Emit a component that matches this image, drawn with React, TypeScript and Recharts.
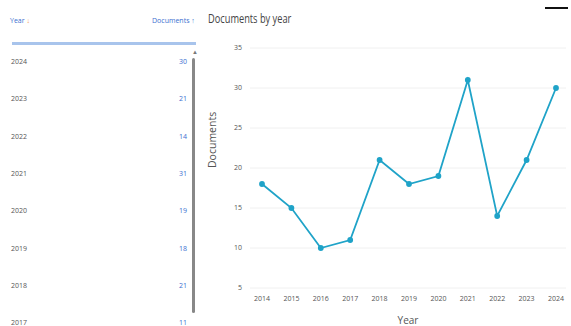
import { LineChart, Line, XAxis, YAxis, CartesianGrid } from 'recharts'

const years = ['2014', '2015', '2016', '2017', '2018', '2019', '2020', '2021', '2022', '2023', '2024']
const documents = [18, 15, 10, 11, 21, 18, 19, 31, 14, 21, 30]
const yTicks = [5, 10, 15, 20, 25, 30, 35]
const tableYears = ['2024', '2023', '2022', '2021', '2020', '2019', '2018', '2017']
const tableDocs = [30, 21, 14, 31, 19, 18, 21, 11]

const font = '"Open Sans", sans-serif'

function YearTable() {
  return (
    <div style={{ position: 'absolute', left: 0, top: 0, width: 200, height: 326, overflow: 'hidden', fontFamily: font }}>
      <div style={{ position: 'absolute', left: 10, top: 16, fontSize: 7, color: '#3b6fd0' }}>
        Year <span style={{ color: '#f0a050' }}>↓</span>
      </div>
      <div style={{ position: 'absolute', left: 152, top: 16, fontSize: 7, color: '#3b6fd0' }}>Documents ↑</div>
      <div style={{ position: 'absolute', left: 12, top: 42, width: 184, height: 3, background: '#a8c4ec' }} />
      <div style={{ position: 'absolute', left: 192, top: 48, fontSize: 6, color: '#777' }}>▲</div>
      <div style={{ position: 'absolute', left: 192, top: 58, width: 3, height: 255, background: '#888', borderRadius: 2 }} />
      {tableYears.map((y, i) => (
        <div key={y} style={{ position: 'absolute', left: 0, top: 57 + i * 37.3, width: 200, height: 10 }}>
          <span style={{ position: 'absolute', left: 11, fontSize: 7, color: '#555' }}>{y}</span>
          <span style={{ position: 'absolute', right: 13, fontSize: 7, color: '#3b6fd0' }}>{tableDocs[i]}</span>
        </div>
      ))}
    </div>
  )
}

export default function App() {
  const data = years.map((year, i) => ({ year, documents: documents[i] }))
  return (
    <div style={{ position: 'absolute', left: 0, top: 0, width: 571, height: 326, background: '#fff', fontFamily: font }}>
      <YearTable />
      <div
        style={{
          position: 'absolute',
          left: 208,
          top: 10,
          fontSize: 12.5,
          color: '#444',
          whiteSpace: 'nowrap',
          transform: 'scaleX(0.74)',
          transformOrigin: 'left top',
        }}
      >
        Documents by year
      </div>
      <div style={{ position: 'absolute', left: 545, top: 7, width: 23, height: 2, background: '#111' }} />
      <div style={{ position: 'absolute', left: 205, top: 0 }}>
        <LineChart width={366} height={326} data={data} margin={{ top: 48, right: 5, bottom: 0, left: 0 }}>
          <CartesianGrid vertical={false} stroke="#f0f0f0" />
          <XAxis
            dataKey="year"
            axisLine={false}
            tickLine={false}
            height={38}
            padding={{ left: 12, right: 10 }}
            tick={{ fontSize: 7, fill: '#555' }}
            label={{ value: 'Year', position: 'insideBottom', offset: 2, fontSize: 10, fill: '#555' }}
          />
          <YAxis
            domain={[5, 35]}
            ticks={yTicks}
            axisLine={false}
            tickLine={false}
            width={45}
            tick={{ fontSize: 7, fill: '#555' }}
            label={{ value: 'Documents', angle: -90, position: 'insideLeft', offset: 7, fontSize: 10.5, fill: '#555' }}
          />
          <Line
            type="linear"
            dataKey="documents"
            stroke="#1fa3c8"
            strokeWidth={1.8}
            dot={{ r: 2, fill: '#1fa3c8', stroke: '#1fa3c8' }}
            isAnimationActive={false}
          />
        </LineChart>
      </div>
    </div>
  )
}
